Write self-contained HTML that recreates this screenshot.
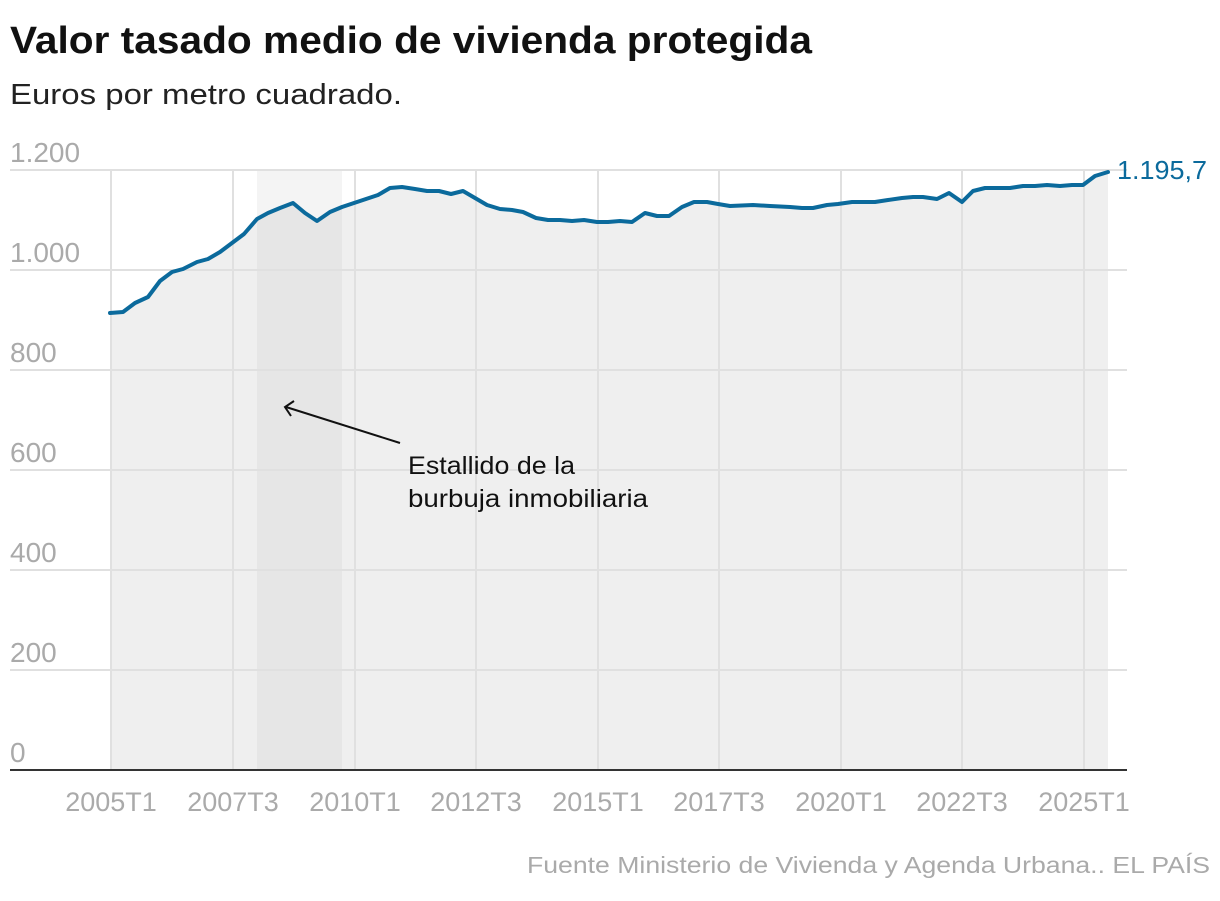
<!DOCTYPE html>
<html><head><meta charset="utf-8"><style>
body{margin:0;background:#fff;width:1220px;height:896px;overflow:hidden;font-family:"Liberation Sans",sans-serif}
</style></head><body>
<svg width="1220" height="896" viewBox="0 0 1220 896" xmlns="http://www.w3.org/2000/svg" font-family="Liberation Sans, sans-serif">
<text x="10" y="53" font-size="38" font-weight="bold" fill="#111" textLength="802" lengthAdjust="spacingAndGlyphs">Valor tasado medio de vivienda protegida</text>
<text x="10" y="104" font-size="29" fill="#222" textLength="392" lengthAdjust="spacingAndGlyphs">Euros por metro cuadrado.</text>
<defs>
<clipPath id="under"><polygon id="areaP" points="110,770 110,313 123,312 135,303 148,297 160,281 172,272 183,269 197,262 208,259 220,252 232,243 244,234 257,219 268,213 280,208 293,203 305,213 317,221 330,212 342,207 354,203 366,199 378,195 390,188 402,187 415,189 427,191 439,191 451,194 463,191 475,198 487,205 500,209 512,210 523,212 536,218 548,220 560,220 572,221 584,220 597,222 608,222 620,221 632,222 645,213 657,216 669,216 682,207 694,202 707,202 718,204 730,206 753,205 770,206 790,207 802,208 813,208 827,205 838,204 852,202 875,202 888,200 902,198 913,197 923,197 937,199 949,193 962,202 973,191 985,188 998,188 1010,188 1023,186 1035,186 1047,185 1060,186 1072,185 1083,185 1095,176 1108,172 1108,770"/></clipPath>
</defs>
<rect x="110" y="170" width="998" height="600" fill="#efefef" clip-path="url(#under)"/>
<rect x="257" y="170" width="85" height="600" fill="#f4f4f4"/>
<rect x="257" y="170" width="85" height="600" fill="#e6e6e6" clip-path="url(#under)"/>
<g stroke="#e0e0e0" stroke-width="2">
<line x1="10" x2="1127" y1="170" y2="170"/><line x1="10" x2="1127" y1="270" y2="270"/><line x1="10" x2="1127" y1="370" y2="370"/><line x1="10" x2="1127" y1="470" y2="470"/><line x1="10" x2="1127" y1="570" y2="570"/><line x1="10" x2="1127" y1="670" y2="670"/>
<line x1="111" x2="111" y1="170" y2="770"/><line x1="233" x2="233" y1="170" y2="770"/><line x1="355" x2="355" y1="170" y2="770"/><line x1="476" x2="476" y1="170" y2="770"/><line x1="598" x2="598" y1="170" y2="770"/><line x1="719" x2="719" y1="170" y2="770"/><line x1="841" x2="841" y1="170" y2="770"/><line x1="962" x2="962" y1="170" y2="770"/><line x1="1084" x2="1084" y1="170" y2="770"/>
</g>
<line x1="10" x2="1127" y1="770" y2="770" stroke="#333" stroke-width="2"/>
<g font-size="28" fill="#aaa">
<text x="10" y="162">1.200</text><text x="10" y="262">1.000</text><text x="10" y="362">800</text><text x="10" y="462">600</text><text x="10" y="562">400</text><text x="10" y="662">200</text><text x="10" y="762">0</text>
</g>
<g font-size="27" fill="#aaa" text-anchor="middle">
<text x="111" y="811">2005T1</text><text x="233" y="811">2007T3</text><text x="355" y="811">2010T1</text><text x="476" y="811">2012T3</text><text x="598" y="811">2015T1</text><text x="719" y="811">2017T3</text><text x="841" y="811">2020T1</text><text x="962" y="811">2022T3</text><text x="1084" y="811">2025T1</text>
</g>
<polyline fill="none" stroke="#0b6a9c" stroke-width="4" stroke-linejoin="round" stroke-linecap="round" points="110,313 123,312 135,303 148,297 160,281 172,272 183,269 197,262 208,259 220,252 232,243 244,234 257,219 268,213 280,208 293,203 305,213 317,221 330,212 342,207 354,203 366,199 378,195 390,188 402,187 415,189 427,191 439,191 451,194 463,191 475,198 487,205 500,209 512,210 523,212 536,218 548,220 560,220 572,221 584,220 597,222 608,222 620,221 632,222 645,213 657,216 669,216 682,207 694,202 707,202 718,204 730,206 753,205 770,206 790,207 802,208 813,208 827,205 838,204 852,202 875,202 888,200 902,198 913,197 923,197 937,199 949,193 962,202 973,191 985,188 998,188 1010,188 1023,186 1035,186 1047,185 1060,186 1072,185 1083,185 1095,176 1108,172"/>
<text x="1117" y="179" font-size="26" fill="#0b6a9c" textLength="90" lengthAdjust="spacingAndGlyphs">1.195,7</text>
<g stroke="#111" stroke-width="2" fill="none"><line x1="400" y1="443" x2="286" y2="407"/><polyline points="294,401 285,407 291,416"/></g>
<text x="408" y="474" font-size="25" fill="#111" textLength="167" lengthAdjust="spacingAndGlyphs">Estallido de la</text>
<text x="408" y="507" font-size="25" fill="#111" textLength="240" lengthAdjust="spacingAndGlyphs">burbuja inmobiliaria</text>
<text x="527" y="873" font-size="23" fill="#aaa" textLength="683" lengthAdjust="spacingAndGlyphs">Fuente Ministerio de Vivienda y Agenda Urbana.. EL PAÍS</text>
</svg>
</body></html>
